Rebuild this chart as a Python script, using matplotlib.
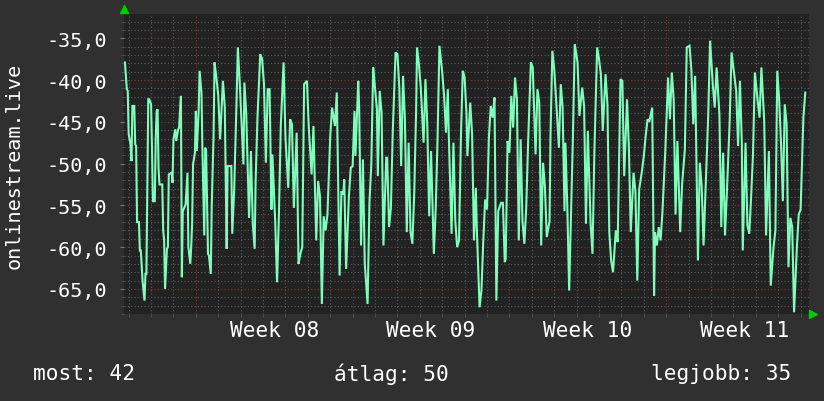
import numpy as np
import matplotlib
matplotlib.use("Agg")
import matplotlib.pyplot as plt
from matplotlib.ticker import FuncFormatter, MultipleLocator
from matplotlib.transforms import blended_transform_factory, offset_copy

# ---- data: hours relative to Monday 00:00 of Week 08, values ----
hours_a = [-76,-74,-73,-72,-70,-69,-68,-66,-65,-64,-63,-61,-60,-59,-57,-55,-54,-53,-51,-50,
           -48,-47,-46,-44,-43,-42,-41,-40,-39,-36,-35,-34,-33,-31,-30,-29,-26,-25,-24,-22,
           -21,-19,-18,-16,-15,-14,-11,-9,-8,-6,-5,-4,-3,-1,0,1,3,4,6,7,9,10,11,13,14,16,17,19,20,22,24,26]
values_a = [-37.9,-41.1,-41.3,-46.5,-47.7,-49.7,-43.1,-43.1,-47.7,-47.9,-57.0,-57.0,-60.4,-60.4,-64.2,
            -66.4,-63.2,-63.2,-42.3,-42.3,-42.9,-48.1,-54.5,-54.5,-46.9,-43.7,-43.5,-50.5,-52.5,-52.5,
            -58.0,-59.2,-65.0,-60.2,-60.0,-51.3,-51.1,-52.3,-47.1,-45.9,-47.3,-45.9,-45.7,-41.9,-63.6,
            -55.7,-54.9,-51.1,-60.0,-62.0,-60.0,-57.2,-50.1,-48.7,-43.7,-48.5,-43.7,-38.9,-41.5,-48.1,
            -58.6,-48.1,-48.5,-60.8,-61.0,-63.2,-55.1,-46.5,-37.9,-39.7,-41.9,-47.1]

hours_b = [29,31,33,34,38,39,41,43,45,47,51,52,54,57,59,61,63,64,66,69,71,73,75,77,79,81,82,85,87,89,
           91,94,96,99,101,103,105,108,110,112,114,116,119,121,124,126,129,131]
values_b = [-40.1,-43.3,-60.2,-50.3,-50.3,-58.4,-53.3,-45.1,-36.1,-40.3,-50.1,-40.3,-44.1,-56.5,-48.5,
            -57.2,-60.2,-52.3,-44.5,-36.9,-37.5,-40.5,-49.9,-41.1,-41.1,-55.5,-48.9,-56.9,-64.2,-56.1,
            -45.5,-37.9,-46.9,-52.9,-44.7,-45.3,-55.3,-46.3,-62.0,-60.8,-60.0,-40.5,-40.1,-45.7,-51.3,
            -45.5,-59.2,-52.1]

hours_c = [133,135,137,139,141,144,146,149,151,154,156,158,159,161,164,166,168,170,171,174,175,177,179,
           181,184,186,188,190,191,194,195,197,199,201,204,205,207,209,211,214,216,218,220,222,224,226,
           228,230,232,234,236,237]
values_c = [-53.9,-66.8,-56.3,-58.0,-56.1,-46.7,-43.3,-45.5,-41.5,-63.4,-53.3,-53.7,-51.9,-62.6,-53.9,
            -50.5,-50.3,-43.7,-49.1,-40.1,-43.3,-59.8,-49.5,-62.0,-66.8,-54.7,-50.1,-38.5,-39.7,-43.5,
            -51.5,-41.3,-43.9,-59.8,-49.3,-49.3,-57.6,-55.3,-46.1,-36.7,-36.9,-40.9,-50.3,-39.5,-44.7,
            -58.2,-47.5,-58.2,-59.6,-53.5,-43.7,-36.1]

hours_d = [239,241,244,246,248,250,252,255,257,259,261,264,266,268,270,271,274,276,278,280,282,284,286,
           288,290,291,294,296,298,300,301,304,306,308,310,312,314,316,318,320,322,324,327,329,331,332,
           334,336,338,340,342]
values_d = [-38.1,-40.9,-47.5,-39.9,-45.5,-56.3,-48.5,-60.8,-55.5,-46.9,-35.9,-39.1,-41.9,-46.3,-41.1,
            -46.5,-58.4,-47.5,-56.9,-60.0,-59.2,-46.9,-38.9,-39.7,-44.1,-49.1,-42.7,-46.5,-59.2,-52.9,
            -57.6,-67.2,-65.2,-59.2,-54.3,-55.5,-46.9,-43.1,-44.5,-42.1,-66.4,-55.7,-54.7,-54.7,-61.8,
            -61.4,-47.3,-48.7,-41.9,-45.7,-39.7]

hours_e = [344,346,348,350,352,354,356,359,361,364,366,368,370,372,374,376,379,380,382,384,386,389,391,
           393,395,396,398,400,402,404,406,409,411,414,416,418,420,423,425,427,430,432,434,436,439,441,
           443,445,447]
values_e = [-42.3,-59.2,-47.1,-56.9,-59.6,-55.3,-47.5,-37.9,-38.5,-48.9,-41.1,-42.7,-59.8,-49.9,-52.7,
            -58.8,-56.9,-46.7,-36.5,-38.7,-42.3,-48.1,-40.5,-43.3,-55.7,-47.5,-55.1,-65.2,-55.9,-46.9,
            -35.7,-37.9,-44.3,-40.9,-43.1,-57.2,-46.1,-57.2,-60.8,-48.7,-36.1,-37.5,-39.3,-46.1,-39.3,
            -42.9,-58.2,-61.6,-63.0]

hours_f = [450,452,455,457,459,462,464,466,469,471,473,475,478,480,482,484,486,489,491,492,494,496,498,
           500,503,506,508,510,512,514,516,519,521,524,526,529,531,533,535,538,540,542,544,546,549,551]
values_f = [-58.0,-59.4,-39.9,-40.1,-51.5,-42.3,-48.1,-58.2,-51.1,-53.3,-64.0,-53.1,-50.9,-49.1,-46.7,
            -44.7,-44.9,-43.3,-65.8,-58.2,-59.8,-57.6,-59.2,-55.7,-48.5,-39.7,-44.7,-39.1,-42.3,-56.1,
            -47.3,-58.2,-52.5,-48.3,-36.1,-35.9,-38.9,-45.3,-39.5,-61.6,-49.9,-52.7,-59.8,-53.5,-44.3,-35.3]

hours_g = [554,556,558,561,563,565,567,569,572,574,576,579,581,583,585,586,589,591,593,595,597,599,602,
           604,606,609,611,614,616,619,621,623,625,627,629,631,633,635,637,639,641,644,646,648,651,653]
values_g = [-40.7,-43.3,-38.5,-44.1,-57.6,-48.7,-58.6,-53.5,-44.9,-36.7,-38.5,-41.3,-47.9,-40.1,-47.5,
            -60.4,-47.5,-57.4,-58.4,-53.9,-48.9,-39.1,-42.5,-44.5,-38.5,-44.9,-58.6,-48.5,-64.6,-60.0,
            -58.0,-38.9,-42.3,-47.5,-54.5,-42.9,-45.3,-62.4,-56.5,-57.6,-67.8,-60.0,-56.1,-55.5,-44.5,-41.5]

week_labels = ["Week 08", "Week 09", "Week 10", "Week 11"]
week_starts = [0, 168, 336, 504]
y_label = "onlinestream.live"
legend_texts = ["most: 42", "átlag: 50", "legjobb: 35"]

hours = np.concatenate([hours_a, hours_b, hours_c, hours_d, hours_e, hours_f, hours_g])
values = np.concatenate([values_a, values_b, values_c, values_d, values_e, values_f, values_g])
assert len(hours) == len(values)

# ---- style ----
BG = "#303030"
PLOT_BG = "#222222"
LINE = "#80fcbc"
MINOR = "#5c5c5c"
MAJOR = "#7a3838"
FONT = "DejaVu Sans Mono"
FS = 14.5
FS2 = 15.2

fig = plt.figure(figsize=(8.24, 4.02), dpi=100, facecolor=BG)
ax = fig.add_axes([124/824, 1-315/402, (809-124)/824, (315-15)/402])
ax.set_facecolor(PLOT_BG)

ax.set_xlim(-77, 657)
ax.set_ylim(-68, -32.1)

ax.yaxis.set_major_locator(MultipleLocator(5))
ax.yaxis.set_minor_locator(MultipleLocator(1))
ax.set_xticks(week_starts)
ax.xaxis.set_minor_locator(MultipleLocator(24))
ax.set_xticklabels([])

ax.grid(which="minor", color=MINOR, linestyle=(0, (1, 2)), linewidth=0.8)
ax.grid(which="major", color=MAJOR, linestyle=(0, (1, 2)), linewidth=0.8)
ax.set_axisbelow(True)

ax.yaxis.set_major_formatter(FuncFormatter(lambda v, p: f"{v:.1f}".replace(".", ",")))
ax.tick_params(axis="y", which="major", labelsize=FS, labelcolor="white", colors="#777777",
               length=3, pad=9)
ax.tick_params(axis="y", which="minor", colors="#555555", length=2)
ax.tick_params(axis="x", which="both", colors="#555555", length=2)
for lab in ax.get_yticklabels():
    lab.set_fontfamily(FONT)
for s in ax.spines.values():
    s.set_visible(False)

ax.plot(hours, values, color=LINE, linewidth=1.5, solid_joinstyle="miter")

# week labels centred in each week
tr = blended_transform_factory(ax.transData, fig.transFigure)
for lab, ws in zip(week_labels, week_starts):
    ax.text(ws + 84, 1-331/402, lab, transform=tr, ha="center", va="center",
            color="white", fontsize=FS2, fontfamily=FONT, clip_on=False)

# axis arrows
ax.plot([0], [1], marker="^", color="#00cc00", markersize=5.5, clip_on=False,
        transform=offset_copy(ax.transAxes, fig=fig, x=0, y=3.5, units="points"))
ax.plot([1], [0], marker=">", color="#00cc00", markersize=5.5, clip_on=False,
        transform=offset_copy(ax.transAxes, fig=fig, x=3.0, y=0, units="points"))

fig.text(14/824, 1-166/402, y_label, rotation=90, ha="center", va="center",
         color="white", fontsize=FS, fontfamily=FONT)

fig.text(33/824, 1-374/402, legend_texts[0], ha="left", va="center",
         color="white", fontsize=FS2, fontfamily=FONT)
fig.text(391/824, 1-374/402, legend_texts[1], ha="center", va="center",
         color="white", fontsize=FS2, fontfamily=FONT)
fig.text(791/824, 1-374/402, legend_texts[2], ha="right", va="center",
         color="white", fontsize=FS2, fontfamily=FONT)

fig.savefig("out.png", dpi=100, facecolor=BG)
